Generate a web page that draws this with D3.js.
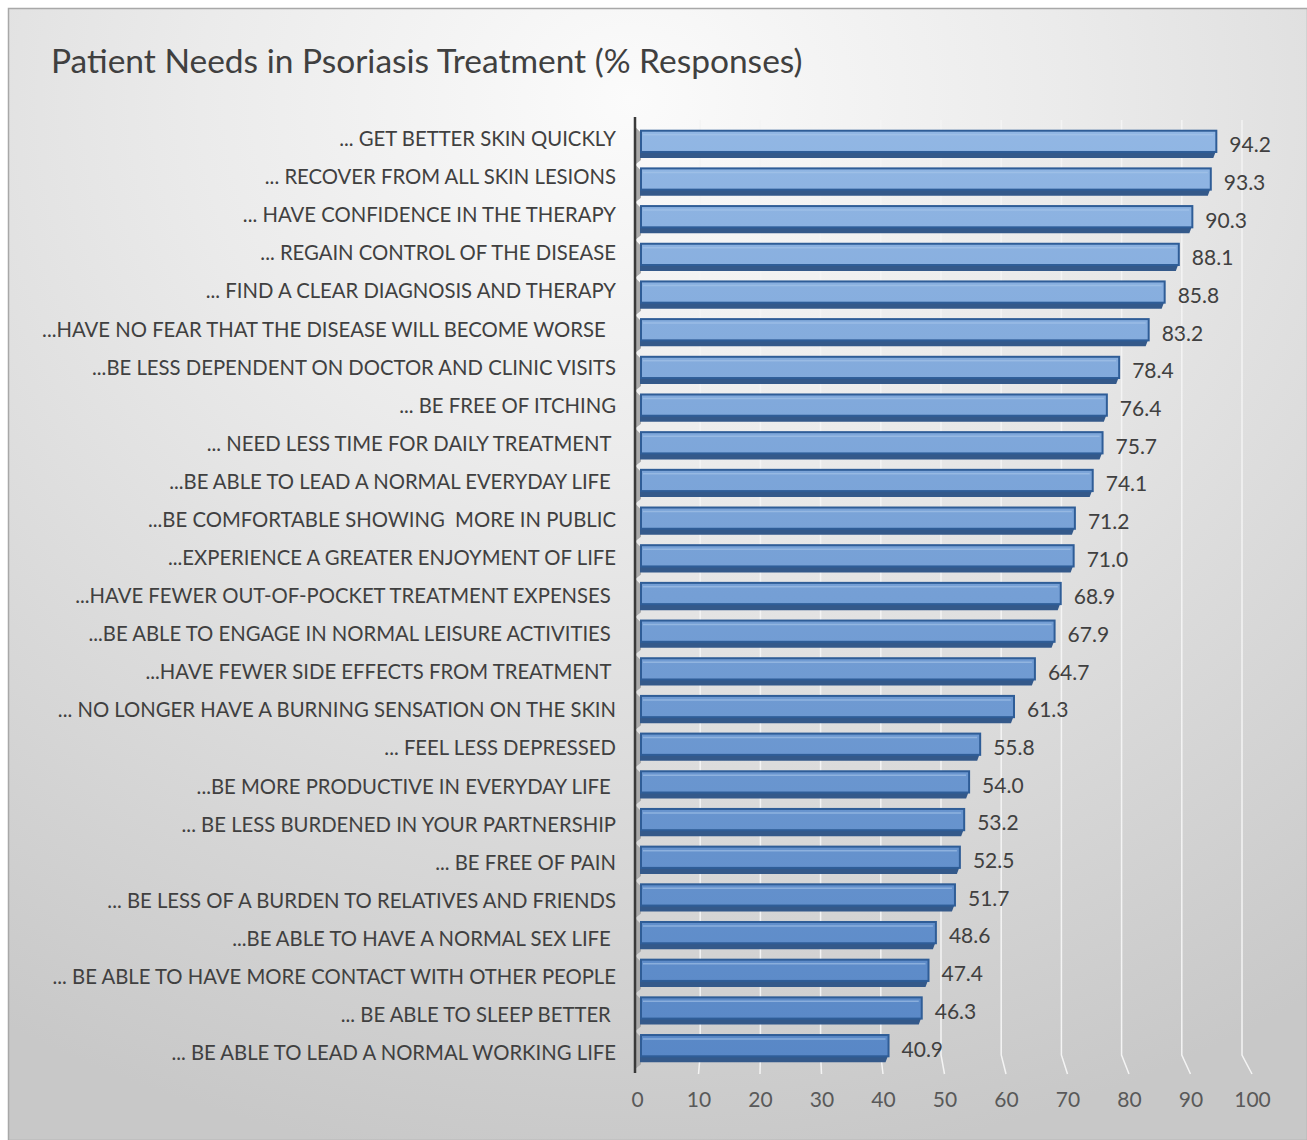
<!DOCTYPE html>
<html>
<head>
<meta charset="utf-8">
<script src="https://cdn.jsdelivr.net/npm/d3@7/dist/d3.min.js"></script>
<style>
  body { margin: 0; background: #fff; }
  text { white-space: pre; }
</style>
</head>
<body>
<div id="chart"></div>
<script>
// chart data
var categories = [
	'... GET BETTER SKIN QUICKLY',
	'... RECOVER FROM ALL SKIN LESIONS',
	'... HAVE CONFIDENCE IN THE THERAPY',
	'... REGAIN CONTROL OF THE DISEASE',
	'... FIND A CLEAR DIAGNOSIS AND THERAPY',
	'...HAVE NO FEAR THAT THE DISEASE WILL BECOME WORSE  ',
	'...BE LESS DEPENDENT ON DOCTOR AND CLINIC VISITS',
	'... BE FREE OF ITCHING',
	'... NEED LESS TIME FOR DAILY TREATMENT ',
	'...BE ABLE TO LEAD A NORMAL EVERYDAY LIFE ',
	'...BE COMFORTABLE SHOWING  MORE IN PUBLIC',
	'...EXPERIENCE A GREATER ENJOYMENT OF LIFE',
	'...HAVE FEWER OUT-OF-POCKET TREATMENT EXPENSES ',
	'...BE ABLE TO ENGAGE IN NORMAL LEISURE ACTIVITIES ',
	'...HAVE FEWER SIDE EFFECTS FROM TREATMENT ',
	'... NO LONGER HAVE A BURNING SENSATION ON THE SKIN',
	'... FEEL LESS DEPRESSED',
	'...BE MORE PRODUCTIVE IN EVERYDAY LIFE ',
	'... BE LESS BURDENED IN YOUR PARTNERSHIP',
	'... BE FREE OF PAIN',
	'... BE LESS OF A BURDEN TO RELATIVES AND FRIENDS',
	'...BE ABLE TO HAVE A NORMAL SEX LIFE ',
	'... BE ABLE TO HAVE MORE CONTACT WITH OTHER PEOPLE',
	'... BE ABLE TO SLEEP BETTER ',
	'... BE ABLE TO LEAD A NORMAL WORKING LIFE'
];
var values = [94.2, 93.3, 90.3, 88.1, 85.8, 83.2, 78.4, 76.4, 75.7, 74.1, 71.2, 71.0, 68.9, 67.9, 64.7, 61.3, 55.8, 54.0, 53.2, 52.5, 51.7, 48.6, 47.4, 46.3, 40.9];
var xTicks = [0, 10, 20, 30, 40, 50, 60, 70, 80, 90, 100];
var title = 'Patient Needs in Psoriasis Treatment (% Responses)';

var width = 1307, height = 1140;
var font = 'Lato, "Open Sans", sans-serif';

var svg = d3.select('#chart').append('svg')
		.attr('width', width)
		.attr('height', height);

var defs = svg.append('defs');

var bg = defs.append('radialGradient')
		.attr('id', 'bgGrad')
		.attr('cx', '48%').attr('cy', '8%').attr('r', '95%');
bg.append('stop').attr('offset', '0%').attr('stop-color', '#fbfbfb');
bg.append('stop').attr('offset', '35%').attr('stop-color', '#ebebeb');
bg.append('stop').attr('offset', '100%').attr('stop-color', '#c8c8c8');

var data = categories.map(function(c, i) { return {cat: c, value: values[i]}; });

/**
 * Scales: bars use the front plane, gridlines sit on the back wall
 */
var x = d3.scaleLinear().domain([0, 100]).range([637, 1252]);
var xBack = d3.scaleLinear().domain([0, 100]).range([640, 1242]);
var y = d3.scaleBand().domain(categories).range([125, 1067]).paddingInner(0.25).paddingOuter(0.125);
var yLabel = d3.scalePoint().domain(categories).range([139, 1053]);

var barGrad = defs.append('linearGradient')
		.attr('id', 'barGrad')
		.attr('gradientUnits', 'userSpaceOnUse')
		.attr('x1', 0).attr('y1', 125).attr('x2', 0).attr('y2', 1067);
barGrad.append('stop').attr('offset', '0%').attr('stop-color', '#92b7e4');
barGrad.append('stop').attr('offset', '100%').attr('stop-color', '#5887c6');

// background + border
svg.append('rect')
	.attr('x', 8.5).attr('y', 8.5)
	.attr('width', width - 8).attr('height', height - 8)
	.style('fill', 'url(#bgGrad)')
	.style('stroke', '#a8a8a8')
	.style('stroke-width', 1.5);

svg.append('text')
	.attr('x', 51).attr('y', 73)
	.attr('font-family', font)
	.attr('font-size', '33.5px')
	.style('fill', '#404040')
	.text(title);

var floorTop = 1055, floorBottom = 1074;

// gridlines (back wall + floor slant)
var grid = svg.append('g');
grid.selectAll('.grid').data(xTicks.slice(1)).enter().append('path')
	.attr('class', 'grid')
	.attr('d', function(d) {
		return 'M' + xBack(d) + ',' + 120 + 'L' + xBack(d) + ',' + floorTop + 'L' + x(d) + ',' + floorBottom;
	})
	.style('fill', 'none')
	.style('stroke', '#f4f4f4')
	.style('stroke-width', 1.5);

// grey wall pieces to the left of each bar
var g = svg.append('g');
g.selectAll('.wall').data(data).enter().append('path')
	.attr('class', 'wall')
	.attr('d', function(d) {
		var by = y(d.cat), h = y.bandwidth();
		return 'M636,' + (by - 2) + 'L641,' + (by + 3) + 'L641,' + (by + h + 2) + 'L636,' + (by + h + 6) + 'Z';
	})
	.style('fill', '#a9a9a9');

// bottom face of bars
g.selectAll('.barBottom').data(data).enter().append('path')
	.attr('class', 'barBottom')
	.attr('d', function(d) {
		var by = y(d.cat), h = y.bandwidth();
		var xe = x(d.value);
		return 'M640,' + (by + h - 8) + 'L' + xe + ',' + (by + h - 8) + 'L' + (xe - 3) + ',' + (by + h) + 'L640,' + (by + h) + 'Z';
	})
	.style('fill', '#34598a');

// front face of bars
g.selectAll('.bar').data(data).enter().append('rect')
	.attr('class', 'bar')
	.attr('x', 641)
	.attr('y', function(d) { return y(d.cat) + 1; })
	.attr('width', function(d) { return x(d.value) - 641; })
	.attr('height', y.bandwidth() - 7)
	.style('fill', 'url(#barGrad)')
	.style('stroke', '#2f5d97')
	.style('stroke-width', 2);

// thin highlight line inside top edge
g.selectAll('.barHi').data(data).enter().append('line')
	.attr('class', 'barHi')
	.attr('x1', 643)
	.attr('x2', function(d) { return x(d.value) - 3; })
	.attr('y1', function(d) { return y(d.cat) + 5; })
	.attr('y2', function(d) { return y(d.cat) + 5; })
	.style('stroke', '#a9c6ea')
	.style('stroke-opacity', 0.6)
	.style('stroke-width', 1.5);

// value labels
g.selectAll('.val').data(data).enter().append('text')
	.attr('class', 'val')
	.attr('x', function(d) { return x(d.value) + 13; })
	.attr('y', function(d) { return y(d.cat) + y.bandwidth() / 2 + 1; })
	.attr('dy', '0.35em')
	.attr('font-family', font)
	.attr('font-size', '21px')
	.style('fill', '#404040')
	.text(function(d) { return d3.format('.1f')(d.value); });

// category labels
svg.append('g').selectAll('.cat').data(categories).enter().append('text')
	.attr('class', 'cat')
	.attr('x', 616)
	.attr('y', function(d) { return yLabel(d); })
	.attr('dy', '0.35em')
	.attr('text-anchor', 'end')
	.attr('font-family', font)
	.attr('font-size', '20.3px')
	.style('fill', '#404040')
	.text(function(d) { return d; });

// vertical axis line
svg.append('line')
	.attr('x1', 635).attr('x2', 635)
	.attr('y1', 117).attr('y2', 1073)
	.style('stroke', '#3a3a3a')
	.style('stroke-width', 2.5);

// x axis tick labels
var xAxis = d3.axisBottom(x).tickValues(xTicks).tickSize(0).tickPadding(0);
var ax = svg.append('g')
	.attr('transform', 'translate(0,1092)')
	.call(xAxis);
ax.select('.domain').remove();
ax.selectAll('text')
	.attr('font-family', font)
	.attr('font-size', '21px')
	.style('fill', '#595959');
</script>
</body>
</html>
